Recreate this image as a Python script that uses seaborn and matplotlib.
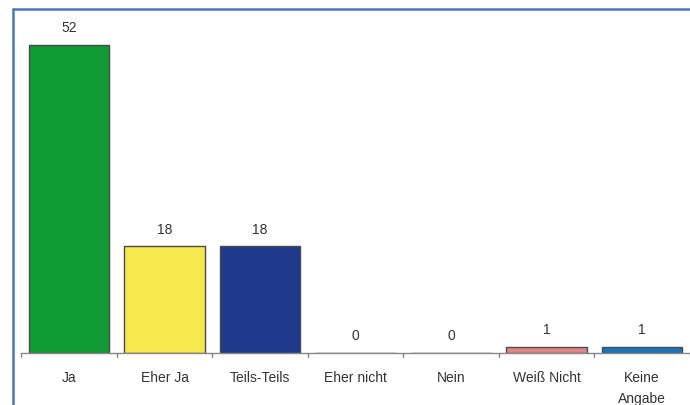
import matplotlib
matplotlib.use("Agg")
import matplotlib.pyplot as plt
import seaborn as sns
import pandas as pd
from matplotlib.lines import Line2D

categories = ["Ja", "Eher Ja", "Teils-Teils", "Eher nicht", "Nein", "Weiß Nicht", "Keine\nAngabe"]
values = [52, 18, 18, 0, 0, 1, 1]
colors = ["#109a35", "#f6e94f", "#1f3a8c", "#1f3a8c", "#1f3a8c", "#e08585", "#1a72b8"]

sns.set_theme(style="white")
plt.rcParams["font.family"] = ["Liberation Sans", "DejaVu Sans"]

W, H = 690, 406
fig = plt.figure(figsize=(W / 100, H / 100), dpi=100)
ax = fig.add_axes([21.3 / W, (H - 354) / H, 668.5 / W, 344 / H])

df = pd.DataFrame({"cat": categories, "val": values})
sns.barplot(data=df, x="cat", y="val", hue="cat", palette=colors, legend=False,
            saturation=1, width=0.84, edgecolor="#4a4a4a", linewidth=1.0, ax=ax)

ax.set_xlim(-0.5, len(categories) - 0.5)
ax.set_ylim(0, 58.1)
ax.set_xlabel("")
ax.set_ylabel("")
ax.set_yticks([])
for s in ["top", "right", "left"]:
    ax.spines[s].set_visible(False)
ax.spines["bottom"].set_color("#888888")
ax.spines["bottom"].set_linewidth(1.0)

ax.set_xticks(range(len(categories)))
ax.set_xticklabels(categories, fontsize=10, color="#333333", linespacing=1.7)
ax.tick_params(axis="x", length=0, pad=12)
# boundary ticks
for b in range(len(categories) + 1):
    ax.plot([b - 0.5, b - 0.5], [0, -0.7], color="#888888", lw=1.0, clip_on=False)

for i, v in enumerate(values):
    ax.text(i, v + 1.8, str(v), ha="center", va="bottom", fontsize=10, color="#333333")

# blue frame
fig.add_artist(Line2D([13 / W, 13 / W], [0, 1 - 10 / H], transform=fig.transFigure,
                      color="#4a78bd", lw=1.8))
fig.add_artist(Line2D([13 / W, 1], [1 - 10 / H, 1 - 10 / H], transform=fig.transFigure,
                      color="#4a78bd", lw=1.8))

fig.savefig("out.png", dpi=100)
